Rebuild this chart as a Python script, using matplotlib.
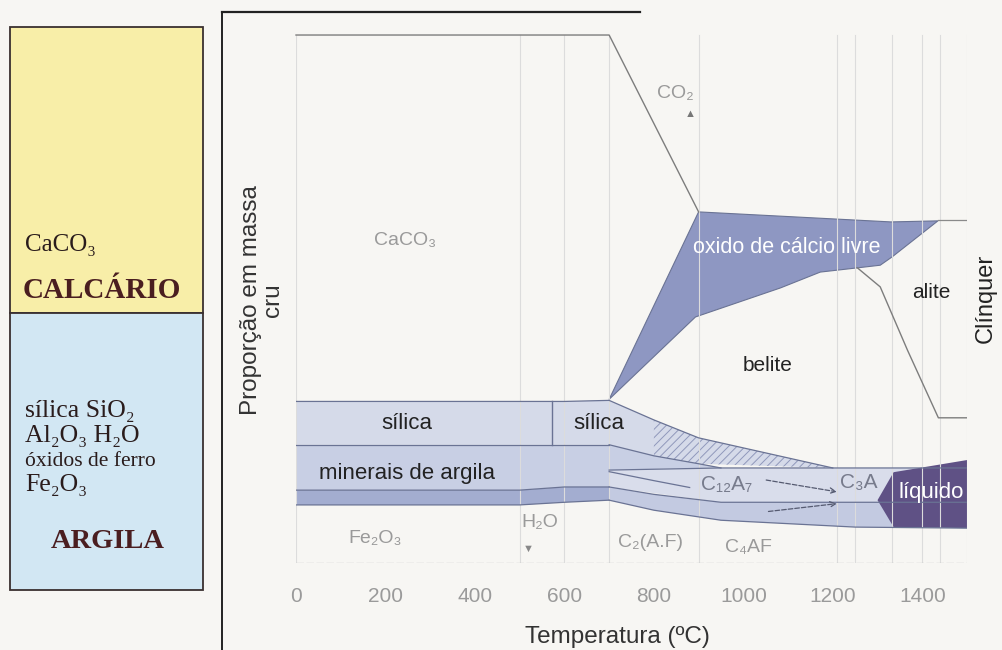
import matplotlib
matplotlib.use("Agg")
import matplotlib.pyplot as plt
from matplotlib.patches import Rectangle, Polygon
from matplotlib.lines import Line2D

# ---------------- data (temperature in ºC, relative mass proportion) ----------------
temp_ticks = [0, 200, 400, 600, 800, 1000, 1200, 1400]
grid_temps = [0, 500, 600, 700, 900, 1210, 1250, 1333, 1400, 1440, 1500]

caco3_top_T = [0, 700, 900]
caco3_top_y = [100, 100, 66.5]

raw_T = [0, 500, 600, 700]
fe_bottom = [11.0, 11.0, 11.5, 11.9]
fe_top = [13.8, 13.8, 14.4, 14.4]
argila_top = [22.4, 22.4, 22.4, 22.4]
silica_top = [30.6, 30.6, 30.6, 30.8]
quartz_T = 573

silica_hot_T = [700, 800, 900, 1200]
silica_hot_top = [30.8, 27.1, 23.7, 18.0]
silica_hot_bot = [22.4, 20.3, 18.8, 18.0]

argila_hot_T = [700, 900, 950]
argila_hot_top = [22.4, 18.8, 18.0]
argila_hot_bot = [17.6, 18.0, 18.0]

c12a7_T = [700, 950, 1500]
c12a7_top = [17.6, 18.0, 18.0]
c12a7_bot_T = [700, 800, 950, 1500]
c12a7_bot = [14.4, 13.0, 11.5, 11.5]
wedge_T = [700, 800, 880]
wedge_y = [17.3, 15.6, 14.3]

c4af_bot_T = [700, 800, 950, 1250, 1500]
c4af_top = [14.4, 13.0, 11.5, 11.5, 11.5]
c4af_bot = [11.9, 10.0, 8.1, 6.8, 6.6]

liquid_top_T = [1300, 1336, 1500]
liquid_top = [11.9, 17.2, 19.5]
liquid_bot_T = [1300, 1336, 1500]
liquid_bot = [11.9, 6.8, 6.6]

oxide_T = [700, 900, 1330, 1435, 1333, 1306, 1255, 1172, 1083, 893]
oxide_y = [31.0, 66.5, 64.6, 64.8, 58.0, 56.4, 55.9, 55.1, 52.1, 46.6]

clinker_top_T = [1435, 1500]
clinker_top_y = [65.0, 65.0]
alite_T = [1255, 1306, 1367, 1436, 1500]
alite_y = [55.9, 52.3, 40.3, 27.5, 27.5]

# ---------------- figure ----------------
W, H = 1002, 650
BG = "#f7f6f3"
fig = plt.figure(figsize=(W / 100, H / 100), dpi=100, facecolor=BG)
SANS = ["Liberation Sans", "DejaVu Sans"]
SERIF = ["Liberation Serif", "DejaVu Serif"]
plt.rcParams["hatch.linewidth"] = 0.7


def fx(px):
    return px / W


def fy(py):
    return 1 - py / H


# left legend box
fig.add_artist(Rectangle((fx(10), fy(313)), fx(203) - fx(10), fy(27) - fy(313),
                         transform=fig.transFigure, facecolor="#f8eea8",
                         edgecolor="#3a3030", lw=1.3))
fig.add_artist(Rectangle((fx(10), fy(590)), fx(203) - fx(10), fy(313) - fy(590),
                         transform=fig.transFigure, facecolor="#d2e7f3",
                         edgecolor="#3a3030", lw=1.3))
tc = "#2a1c1c"
fig.text(fx(25), fy(245), "CaCO₃", family=SERIF, fontsize=18, color=tc, va="center")
fig.text(fx(102), fy(291), "CALCÁRIO", family=SERIF, fontsize=21, weight="bold",
         color="#4a1e20", ha="center", va="center")
fig.text(fx(25), fy(411), "sílica SiO₂", family=SERIF, fontsize=18.5, color=tc, va="center")
fig.text(fx(25), fy(436), "Al₂O₃ H₂O", family=SERIF, fontsize=18.5, color=tc, va="center")
fig.text(fx(25), fy(461), "óxidos de ferro", family=SERIF, fontsize=15.5, color=tc, va="center")
fig.text(fx(25), fy(485), "Fe₂O₃", family=SERIF, fontsize=18.5, color=tc, va="center")
fig.text(fx(108), fy(541), "ARGILA", family=SERIF, fontsize=20.5, weight="bold",
         color="#4a1e20", ha="center", va="center")

# frame lines of the scanned page
fig.add_artist(Line2D([fx(222), fx(222)], [fy(12), fy(650)], transform=fig.transFigure,
                      color="#222222", lw=1.4))
fig.add_artist(Line2D([fx(222), fx(640)], [fy(12), fy(12)], transform=fig.transFigure,
                      color="#222222", lw=1.6))

# main axes: x 0..1500 -> px 296..967 ; y 0..104 -> px 563..13.9
ax = fig.add_axes([fx(296), fy(563), fx(967) - fx(296), (563 - 13.9) / H])
ax.set_xlim(0, 1500)
ax.set_ylim(0, 104)
ax.set_facecolor(BG)
for s in ax.spines.values():
    s.set_visible(False)
ax.set_yticks([])
ax.set_xticks(temp_ticks)
ax.set_xticklabels([str(t) for t in temp_ticks], family=SANS, fontsize=15, color="#9a9a9a")
ax.tick_params(axis="x", length=0, pad=17)

EDGE = "#6a7394"


def poly(xs_top, ys_top, xs_bot, ys_bot, fc, z=2):
    verts = list(zip(xs_top, ys_top)) + list(zip(xs_bot, ys_bot))[::-1]
    p = Polygon(verts, closed=True, facecolor=fc, edgecolor="none", lw=0, zorder=z)
    ax.add_patch(p)
    return verts


# raw-meal bands
poly(raw_T, fe_top, raw_T, fe_bottom, "#a3add0")
poly(raw_T, argila_top, raw_T, fe_top, "#c8cfe4")
poly(raw_T, silica_top, raw_T, argila_top, "#d5dae9")

# hot bands
poly(c4af_bot_T, c4af_top, c4af_bot_T, c4af_bot, "#c3cae1")
poly(c12a7_T, c12a7_top, [700, 950, 1500], [14.4, 11.5, 11.5], "#d9ddeb")
poly(argila_hot_T, argila_hot_top, argila_hot_T, argila_hot_bot, "#c8cfe4")
poly(silica_hot_T, silica_hot_top, silica_hot_T, silica_hot_bot, "#d5dae9")
hv = list(zip(silica_hot_T[1:], silica_hot_top[1:])) + \
    list(zip(silica_hot_T[1:], silica_hot_bot[1:]))[::-1]
ax.add_patch(Polygon(hv, closed=True, facecolor="none", edgecolor="#9098bb", lw=0,
                     hatch="////", zorder=2.5))

# liquid
poly(liquid_top_T, liquid_top, liquid_bot_T, liquid_bot, "#5f5185", z=3)

# free lime
ax.add_patch(Polygon(list(zip(oxide_T, oxide_y)), closed=True, facecolor="#8e97c2",
                     edgecolor=EDGE, lw=0.8, zorder=3))

# gridlines
for t in grid_temps:
    ax.plot([t, t], [0, 100], color="#dcdcdc", lw=0.8, zorder=4)
ax.plot([0, 1500], [0, 0], color="#b5b5b5", lw=0.9, ls=(0, (6, 2)), zorder=4)

# boundary lines
L = dict(color=EDGE, lw=0.9, zorder=5)
ax.plot(caco3_top_T, caco3_top_y, color="#7d7d7d", lw=1.0, zorder=5, clip_on=False)
ax.plot(raw_T, silica_top, **L)
ax.plot(raw_T, argila_top, **L)
ax.plot(raw_T, fe_top, **L)
ax.plot(raw_T, fe_bottom, **L)
ax.plot([quartz_T, quartz_T], [22.4, 30.6], color="#6a7394", lw=1.0, zorder=5)
ax.plot(silica_hot_T, silica_hot_top, **L)
ax.plot(silica_hot_T[:3] + [950], silica_hot_bot[:3] + [18.0], **L)
ax.plot(c12a7_T, c12a7_top, **L)
ax.plot(wedge_T, wedge_y, **L)
ax.plot(c12a7_bot_T, c12a7_bot, **L)
ax.plot(c4af_bot_T, c4af_bot, **L)
ax.plot(clinker_top_T, clinker_top_y, color="#8a8a8a", lw=0.9, zorder=5)
ax.plot(alite_T, alite_y, color="#7d7d7d", lw=1.0, zorder=5)

# dashed transformation arrows
ax.annotate("", xy=(1215, 13.4), xytext=(1045, 15.8),
            arrowprops=dict(arrowstyle="->", ls="--", color="#555a70", lw=0.9), zorder=6)
ax.annotate("", xy=(1215, 11.3), xytext=(1050, 9.7),
            arrowprops=dict(arrowstyle="->", ls="--", color="#555a70", lw=0.9), zorder=6)

# labels
G = "#9a9a9a"
D = "#222222"
ax.text(244, 61.0, "CaCO₃", family=SANS, fontsize=14, color=G, ha="center", va="center")
ax.text(848, 89.0, "CO₂", family=SANS, fontsize=14, color=G, ha="center", va="center")
ax.text(881, 85.0, "▲", family=SANS, fontsize=8, color="#777777", ha="center", va="center")
ax.text(1098, 59.8, "oxido de cálcio livre", family=SANS, fontsize=15.5, color="white",
        ha="center", va="center", zorder=7)
ax.text(1421, 51.3, "alite", family=SANS, fontsize=15, color=D, ha="center", va="center", zorder=7)
ax.text(1054, 37.5, "belite", family=SANS, fontsize=15, color=D, ha="center", va="center", zorder=7)
ax.text(248, 26.4, "sílica", family=SANS, fontsize=16, color=D, ha="center", va="center", zorder=7)
ax.text(676, 26.4, "sílica", family=SANS, fontsize=16, color=D, ha="center", va="center", zorder=7)
ax.text(248, 17.0, "minerais de argila", family=SANS, fontsize=16, color=D,
        ha="center", va="center", zorder=7)
ax.text(177, 4.7, "Fe₂O₃", family=SANS, fontsize=14, color=G, ha="center", va="center")
ax.text(546, 7.7, "H₂O", family=SANS, fontsize=14, color=G, ha="center", va="center")
ax.text(519, 2.6, "▼", family=SANS, fontsize=8, color="#888888", ha="center", va="center")
ax.text(792, 3.8, "C₂(A.F)", family=SANS, fontsize=14, color=G, ha="center", va="center")
ax.text(1011, 3.0, "C₄AF", family=SANS, fontsize=14, color=G, ha="center", va="center")
ax.text(962, 14.8, "C₁₂A₇", family=SANS, fontsize=15, color="#777b8c", ha="center", va="center", zorder=7)
ax.text(1257, 15.3, "C₃A", family=SANS, fontsize=15, color="#777b8c", ha="center", va="center", zorder=7)
ax.text(1420, 13.4, "líquido", family=SANS, fontsize=16, color="white", ha="center", va="center", zorder=7)

# axis titles
fig.text(fx(617), fy(637), "Temperatura (ºC)", family=SANS, fontsize=17.5, color="#333333",
         ha="center", va="center")
fig.text(fx(262), fy(300), "Proporção em massa\ncru", family=SANS, fontsize=17.5, color="#333333",
         ha="center", va="center", rotation=90, linespacing=1.0)
fig.text(fx(986), fy(298), "Clínquer", family=SANS, fontsize=17, color="#222222",
         ha="center", va="center", rotation=90)

fig.savefig("out.png", dpi=100, facecolor=BG)
